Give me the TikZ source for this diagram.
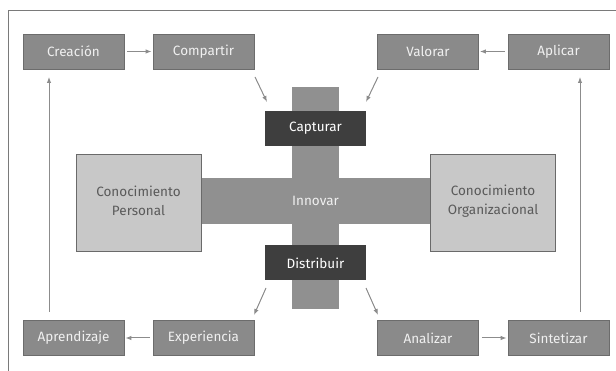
\documentclass[tikz,border=0pt]{standalone}
\usepackage{fontspec}
\setmainfont{Fira Sans}
\usetikzlibrary{arrows.meta}
\definecolor{midg}{HTML}{8A8A8A}
\definecolor{midb}{HTML}{6C6C6C}
\definecolor{darkg}{HTML}{3E3E3E}
\definecolor{lightg}{HTML}{C8C8C8}
\definecolor{lightb}{HTML}{6A6A6A}
\definecolor{barg}{HTML}{909090}
\definecolor{arrg}{HTML}{8C8C8C}
\definecolor{txtg}{HTML}{5A5A5A}
\definecolor{boxtxt}{HTML}{F0F0F0}
\definecolor{framec}{HTML}{7A7A7A}
\begin{document}
\begin{tikzpicture}[x=1pt,y=-1pt,
  midbox/.style={draw=midb,line width=0.8pt,fill=midg,text=boxtxt,minimum width=101pt,minimum height=35pt,inner sep=0pt,font=\fontsize{13.5}{15}\selectfont},
  darkbox/.style={fill=darkg,text=white,minimum width=101pt,minimum height=35pt,inner sep=0pt,font=\fontsize{13.5}{15}\selectfont},
  lightbox/.style={draw=lightb,line width=0.8pt,fill=lightg,text=txtg,minimum width=125pt,minimum height=97pt,inner sep=0pt,align=center,font=\fontsize{13.5}{19}\selectfont},
  conn/.style={draw=arrg,line width=1pt,-{Latex[length=6pt,width=4.5pt]}}]
\useasboundingbox (0,0) rectangle (616,371);
\draw[framec,line width=1pt] (8,371) -- (8,11) -- (616,11);
% cross bars
\fill[barg] (292,87) rectangle (339,309);
\fill[barg] (201,178) rectangle (430,224);
\node[text=boxtxt,font=\fontsize{13.5}{15}\selectfont] (innovar) at (315.5,201) {Innovar};
% boxes
\node[midbox] (creacion) at (73.5,51.5) {Creación};
\node[midbox] (compartir) at (203.5,51.5) {Compartir};
\node[midbox] (valorar) at (428,51.5) {Valorar};
\node[midbox] (aplicar) at (558.5,51.5) {Aplicar};
\node[midbox] (aprendizaje) at (73.5,338) {Aprendizaje};
\node[midbox] (experiencia) at (203.5,338) {Experiencia};
\node[midbox] (analizar) at (428,338) {Analizar};
\node[midbox] (sintetizar) at (558.5,338) {Sintetizar};
\node[darkbox] (capturar) at (315.5,128.5) {Capturar};
\node[darkbox] (distribuir) at (315.5,263) {Distribuir};
\node[lightbox] (personal) at (138.5,202.5) {};
\node[lightbox] (organizacional) at (493,202.5) {};
\node[text=txtg,align=center,font=\fontsize{13.5}{19}\selectfont] (ptxt) at (138.5,201) {Conocimiento\\Personal};
\node[text=txtg,align=center,font=\fontsize{13.5}{19}\selectfont] (otxt) at (493,201) {Conocimiento\\Organizacional};
% coordinates for connector ends
\coordinate (c1) at (255,77);
\coordinate (c2) at (267,102);
\coordinate (v1) at (378,77);
\coordinate (v2) at (366,102);
\coordinate (d1) at (266,288);
\coordinate (d2) at (254,315);
\coordinate (e1) at (366,288);
\coordinate (e2) at (378,315);
\coordinate (l1) at (49,312);
\coordinate (l2) at (49,77);
\coordinate (r1) at (580,312);
\coordinate (r2) at (580,77);
% connectors
\draw[conn] (creacion.east) ++(3,0) -- ([xshift=-1pt]compartir.west);
\draw[conn] (aplicar.west) ++(-3,0) -- ([xshift=1pt]valorar.east);
\draw[conn] (experiencia.west) ++(-3,0) -- ([xshift=1pt]aprendizaje.east);
\draw[conn] (analizar.east) ++(3,0) -- ([xshift=-1pt]sintetizar.west);
\draw[conn] (c1) -- (c2);
\draw[conn] (v1) -- (v2);
\draw[conn] (d1) -- (d2);
\draw[conn] (e1) -- (e2);
\draw[conn] (l1) -- (l2);
\draw[conn] (r1) -- (r2);
\end{tikzpicture}
\end{document}
